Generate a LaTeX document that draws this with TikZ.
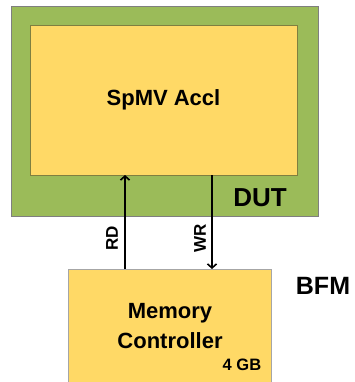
\documentclass[tikz,border=0pt]{standalone}
\usepackage{fontspec}
\setmainfont{Liberation Sans}
\usetikzlibrary{arrows.meta}
\definecolor{dutgreen}{HTML}{9BBB59}
\definecolor{accyellow}{HTML}{FFD966}
\definecolor{dutborder}{HTML}{7F7F7F}
\definecolor{accborder}{HTML}{7F7F40}
\definecolor{memborder}{HTML}{A6A6A6}
\begin{document}
\begin{tikzpicture}[x=1pt,y=-1pt,
  lbl/.style={font=\bfseries, inner sep=0pt},
  sig/.style={line width=2pt, -{Straight Barb[length=4pt,width=9pt,line width=1.6pt]}}]
\useasboundingbox (0,0) rectangle (355,382);
\clip (0,0) rectangle (355,382);
\draw[fill=dutgreen, draw=dutborder, line width=0.8pt] (11,6) rectangle (318,216);
\node[draw=accborder, fill=accyellow, line width=0.8pt, minimum width=267pt, minimum height=150pt, anchor=north west, inner sep=0pt] (acc) at (30,25) {};
\node[draw=memborder, fill=accyellow, line width=0.8pt, minimum width=203pt, minimum height=130pt, anchor=north west, inner sep=0pt] (mem) at (68,269) {};
\node[lbl, font=\bfseries\fontsize{22}{26}\selectfont] (spmv) at (163.5,100) {SpMV Accl};
\node[lbl, font=\bfseries\fontsize{26}{30}\selectfont] (dut) at (260,198) {DUT};
\node[lbl, font=\bfseries\fontsize{25}{30}\selectfont] (bfm) at (323,286) {BFM};
\node[lbl, font=\bfseries\fontsize{22}{28}\selectfont, align=center] (memtxt) at (170,326) {Memory\\[2pt]Controller};
\node[lbl, font=\bfseries\fontsize{16.5}{20}\selectfont] (gb) at (242,365) {4 GB};
\coordinate (rdbot) at (125,269);
\coordinate (rdtop) at (125,175);
\coordinate (wrtop) at (212,175);
\coordinate (wrbot) at (212,269);
\draw[sig] (rdbot) -- (rdtop);
\draw[sig] (wrtop) -- (wrbot);
\node[lbl, rotate=90, font=\bfseries\fontsize{17}{20}\selectfont] (rd) at (112,238) {RD};
\node[lbl, rotate=90, font=\bfseries\fontsize{17}{20}\selectfont] (wr) at (200,238) {WR};
\end{tikzpicture}
\end{document}
